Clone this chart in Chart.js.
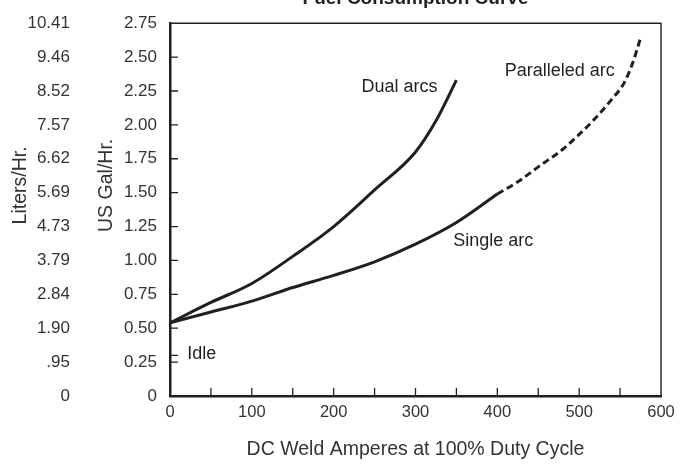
<!DOCTYPE html>
<html>
<head>
<meta charset="utf-8">
<script src="https://cdn.jsdelivr.net/npm/chart.js@4.4.1/dist/chart.umd.min.js"></script>
<style>
    html, body { margin: 0; padding: 0; background: #fff; }
    #wrap { width: 682px; height: 464px; }
</style>
</head>
<body>
<div id="wrap"><canvas id="fuelChart" width="682" height="464"></canvas></div>
<script>
const dualAmps = [0, 50, 100, 150, 200, 250, 300, 325, 350];
const dualGal = [0.54, 0.69, 0.83, 1.03, 1.25, 1.52, 1.80, 2.03, 2.33];

const singleAmps = [0, 50, 100, 150, 200, 250, 300, 350, 400];
const singleGal = [0.54, 0.62, 0.70, 0.80, 0.89, 0.99, 1.12, 1.28, 1.49];

const parallelAmps = [400, 425, 450, 480, 500, 520, 540, 555, 565, 575];
const parallelGal = [1.49, 1.58, 1.69, 1.82, 1.93, 2.05, 2.19, 2.31, 2.45, 2.64];

const litersLabels = ["0", ".95", "1.90", "2.84", "3.79", "4.73", "5.69", "6.62", "7.57", "8.52", "9.46", "10.41"];
const idleGal = 0.3;

const curveLabels = ["Dual arcs", "Single arc", "Paralleled arc", "Idle"];
const labelAmps = [234, 346, 409, 21];
const labelGal = [2.28, 1.143, 2.40, 0.31];

const INK = "#231f20";
const FONT = "'Liberation Sans', Arial, sans-serif";

function toPoints(xs, ys) {
    return xs.map((x, i) => ({ x: x, y: ys[i] }));
}

const framePlugin = {
    id: "frame",
    afterDatasetsDraw(chart) {
        const ctx = chart.ctx;
        const area = chart.chartArea;
        const xs = chart.scales.x;
        const ys = chart.scales.y;

        ctx.save();
        ctx.strokeStyle = INK;

        // thin top and right edges
        ctx.lineWidth = 1.4;
        ctx.beginPath();
        ctx.moveTo(area.left, area.top);
        ctx.lineTo(area.right, area.top);
        ctx.lineTo(area.right, area.bottom);
        ctx.stroke();

        // inward tick marks
        ctx.lineWidth = 1.3;
        ctx.beginPath();
        ys.ticks.forEach((t) => {
            if (t.value <= 0 || t.value >= ys.max) return;
            const py = ys.getPixelForValue(t.value);
            ctx.moveTo(area.left, py);
            ctx.lineTo(area.left + 8, py);
        });
        const idleY = ys.getPixelForValue(idleGal);
        ctx.moveTo(area.left, idleY);
        ctx.lineTo(area.left + 8, idleY);

        xs.ticks.forEach((t) => {
            if (t.value <= 0 || t.value >= xs.max) return;
            const px = xs.getPixelForValue(t.value);
            ctx.moveTo(px, area.bottom);
            ctx.lineTo(px, area.bottom - 8);
        });
        ctx.stroke();

        // curve labels
        ctx.fillStyle = INK;
        ctx.font = "18px " + FONT;
        ctx.textAlign = "left";
        ctx.textBaseline = "middle";
        curveLabels.forEach((txt, i) => {
            ctx.fillText(txt, xs.getPixelForValue(labelAmps[i]), ys.getPixelForValue(labelGal[i]));
        });

        // chart title (cut by the top edge)
        ctx.font = "bold 19px " + FONT;
        ctx.textAlign = "center";
        ctx.textBaseline = "alphabetic";
        ctx.fillText("Fuel Consumption Curve", (area.left + area.right) / 2, 4);

        // axis titles
        ctx.font = "19.5px " + FONT;
        ctx.textBaseline = "middle";
        ctx.fillStyle = "#333";
        ctx.fillText("DC Weld Amperes at 100% Duty Cycle", (area.left + area.right) / 2, 450);

        const midY = area.top + (area.bottom - area.top) * 0.435;
        [["Liters/Hr.", 21], ["US Gal/Hr.", 107]].forEach(([txt, x]) => {
            ctx.save();
            ctx.translate(x, midY);
            ctx.rotate(-Math.PI / 2);
            ctx.fillText(txt, 0, 0);
            ctx.restore();
        });

        ctx.restore();
    }
};

const lineStyle = {
    borderColor: INK,
    borderWidth: 3,
    pointRadius: 0,
    fill: false,
    cubicInterpolationMode: "monotone",
    borderCapStyle: "butt"
};

new Chart(document.getElementById("fuelChart"), {
    type: "line",
    data: {
        datasets: [
            Object.assign({ label: "Dual arcs", data: toPoints(dualAmps, dualGal) }, lineStyle),
            Object.assign({ label: "Single arc", data: toPoints(singleAmps, singleGal) }, lineStyle),
            Object.assign({ label: "Paralleled arc", data: toPoints(parallelAmps, parallelGal), borderDash: [7, 4] }, lineStyle)
        ]
    },
    options: {
        responsive: false,
        animation: false,
        layout: {
            padding: { top: 23, right: 21, left: 0, bottom: 0 }
        },
        plugins: {
            legend: { display: false },
            tooltip: { enabled: false }
        },
        scales: {
            x: {
                type: "linear",
                min: 0,
                max: 600,
                afterFit(scale) { scale.height = 68; },
                grid: { display: false, drawTicks: false },
                border: { display: true, color: INK, width: 2.5 },
                ticks: {
                    stepSize: 50,
                    autoSkip: false,
                    maxRotation: 0,
                    padding: 7,
                    color: "#333",
                    font: { family: FONT, size: 16.5 },
                    callback: (v) => (v % 100 === 0 ? String(v) : "")
                }
            },
            yL: {
                type: "linear",
                position: "left",
                weight: 10,
                min: 0,
                max: 2.75,
                afterFit(scale) { scale.width = 78; },
                grid: { display: false, drawTicks: false },
                border: { display: false },
                ticks: {
                    stepSize: 0.25,
                    padding: 8,
                    color: "#333",
                    font: { family: FONT, size: 17 },
                    callback: (v, i) => litersLabels[i]
                }
            },
            y: {
                type: "linear",
                position: "left",
                weight: 0,
                min: 0,
                max: 2.75,
                afterFit(scale) { scale.width = 92; },
                grid: { display: false, drawTicks: false },
                border: { display: true, color: INK, width: 2.5 },
                ticks: {
                    stepSize: 0.25,
                    padding: 13,
                    color: "#333",
                    font: { family: FONT, size: 17 },
                    callback: (v) => (v === 0 ? "0" : v.toFixed(2))
                }
            }
        }
    },
    plugins: [framePlugin]
});
</script>
</body>
</html>
